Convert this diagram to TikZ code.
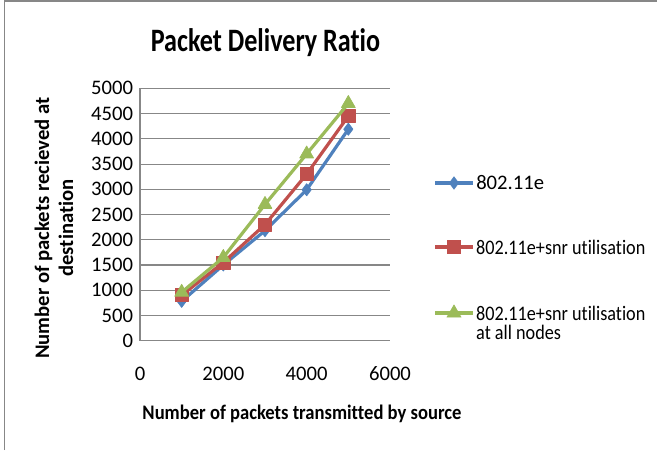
\documentclass[tikz,border=0pt]{standalone}
\usepackage{fontspec}
\setmainfont{Carlito}[Ligatures=NoCommon]
\usetikzlibrary{plotmarks}
\definecolor{XLBlue}{HTML}{4F81BD}
\definecolor{XLRed}{HTML}{C0504D}
\definecolor{XLGreen}{HTML}{9BBB59}
\definecolor{XLGrid}{HTML}{878787}

\begin{document}
\begin{tikzpicture}[x=0.75pt,y=-0.75pt,
    font=\fontsize{15.5}{18}\selectfont,
    series/.style={line width=2.4pt,line join=round},
    blue marks/.style={mark=diamond*,mark size=4.6pt,mark options={XLBlue,line width=0.5pt}},
    red marks/.style={mark=square*,mark size=4.9pt,mark options={XLRed,line width=0.5pt}},
    green marks/.style={mark=triangle*,mark size=6pt,mark options={XLGreen,line width=0.5pt}},
    grid line/.style={draw=XLGrid,line width=0.8pt},
    legend text/.style={anchor=west,inner sep=0pt,xscale=0.88},
    axis title/.style={font=\bfseries\fontsize{15.5}{18}\selectfont,align=center}]
  \useasboundingbox (0,0) rectangle (657,450);
  \draw[XLGrid,line width=1.2pt] (4.5,450) -- (4.5,1) -- (657,1);
  \node[font=\bfseries\fontsize{24.5}{28}\selectfont,xscale=0.8] (title) at (265.5,43) {Packet Delivery Ratio};
  \node[axis title,rotate=90] (ytitle) at (54,228)
       {Number of packets recieved at\\destination};
  \node[axis title,xscale=0.9] (xtitle) at (302,414) {Number of packets transmitted by source};
  % plot area, data units
  \begin{scope}[shift={(140,340.7)},x=0.03125pt,y=0.03786pt]
    \foreach \Y in {500,1000,...,5000} \draw[grid line] (0,\Y) -- (6000,\Y);
    \draw[grid line] (0,0) -- (6000,0) (0,0) -- (0,5000);
    \path foreach \Y in {0,500,...,5000}
       {(-160,\Y) node[anchor=east,inner sep=0pt] (ylab\Y) {\Y}}
       foreach \X in {0,2000,4000,6000}
       {(\X,-660) node (xlab\X) {\X}};
    \draw[series,XLBlue] plot[blue marks] coordinates
       {(1000,780) (2000,1500) (3000,2180) (4000,2990) (5000,4190)};
    \draw[series,XLRed] plot[red marks] coordinates
       {(1000,900) (2000,1550) (3000,2300) (4000,3300) (5000,4450)};
    \draw[series,XLGreen] plot[green marks] coordinates
       {(1000,960) (2000,1650) (3000,2700) (4000,3700) (5000,4700)};
  \end{scope}
  % legend
  \node[anchor=west,inner sep=0pt] (legblue) at (476,183) {802.11e};
  \node[legend text] (legred) at (476,247) {802.11e+snr utilisation};
  \node[legend text] (leggreen) at (476,313) {802.11e+snr utilisation};
  \node[legend text,anchor=north west] (legmore) at (476,325) {at all nodes};
  \foreach \C/\M/\Y in {XLBlue/blue/183,XLRed/red/247,XLGreen/green/313}{
    \coordinate (a\M) at (435,\Y);
    \coordinate (b\M) at (473,\Y);
    \draw[series,\C] (a\M) -- (b\M);
    \path plot[\M\space marks] coordinates {(454,\Y)};
  }
\end{tikzpicture}
\end{document}
